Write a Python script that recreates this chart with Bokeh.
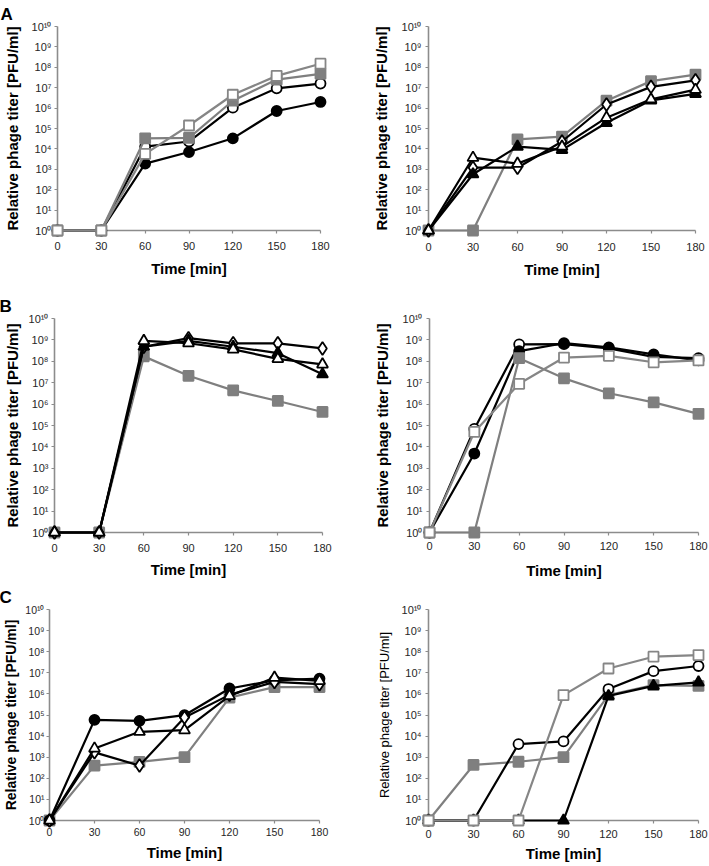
from bokeh.plotting import figure
from bokeh.layouts import column, row
from bokeh.models import Range1d, FixedTicker, Title
from bokeh.embed import file_html
from bokeh.resources import INLINE

# ---------------- data ----------------
time = [0, 30, 60, 90, 120, 150, 180]
y_ticks = [10 ** k for k in range(0, 11)]
SUP = "⁰¹²³⁴⁵⁶⁷⁸⁹"
y_tick_labels = ["10" + "".join(SUP[int(c)] for c in str(k)) for k in range(0, 11)]
x_tick_labels = ["0", "30", "60", "90", "120", "150", "180"]
y_title = "Relative phage titer [PFU/ml]"
x_title = "Time [min]"
panel_letters = ["A", "B", "C"]

# Panel A (left)
a1_filled_circle = [1, 1, 1.9e3, 7e3, 3.3e4, 7.2e5, 2e6]
a1_open_circle = [1, 1, 1.3e4, 2.3e4, 1.05e6, 9.3e6, 1.6e7]
a1_gray_filled_sq = [1, 1, 3.3e4, 3.5e4, 2.3e6, 2.5e7, 4.8e7]
a1_gray_open_sq = [1, 1, 5.7e3, 1.4e5, 4.5e6, 3.8e7, 1.5e8]
# Panel A (right)
a2_gray_filled_sq = [1, 1, 2.9e4, 4e4, 2.3e6, 2.1e7, 4.4e7]
a2_open_diamond = [1, 1.2e3, 1.2e3, 2.3e4, 1.5e6, 1.1e7, 2.3e7]
a2_filled_tri = [1, 5.7e2, 1.3e4, 9e3, 1.9e5, 2.4e6, 5e6]
a2_open_tri = [1, 3.7e3, 1.9e3, 1.3e4, 3.4e5, 2.7e6, 8e6]
# Panel B (left)
b1_gray_filled_sq = [1, 1, 1.7e8, 2.1e7, 4.4e6, 1.4e6, 4.3e5]
b1_open_diamond = [1, 1, 4.8e8, 1.2e9, 6.9e8, 6.9e8, 4e8]
b1_filled_tri = [1, 1, 4.8e8, 9e8, 4.8e8, 2.4e8, 2.5e7]
b1_open_tri = [1, 1, 9e8, 7e8, 3.6e8, 1.3e8, 7.2e7]
# Panel B (right)
b2_open_circle = [1, 6.9e4, 6.2e8, 6.3e8, 4e8, 1.6e8, 1.4e8]
b2_filled_circle = [1, 4.9e3, 3e8, 7e8, 4.5e8, 2.1e8, 1.1e8]
b2_gray_filled_sq = [1, 1, 1.4e8, 1.6e7, 3.2e6, 1.2e6, 3.5e5]
b2_gray_open_sq = [1, 5e4, 8.9e6, 1.5e8, 1.8e8, 9e7, 1.1e8]
# Panel C (left)
c1_gray_filled_sq = [1, 4e2, 6e2, 1e3, 6.7e5, 2.1e6, 2.1e6]
c1_filled_circle = [1, 5.9e4, 5.3e4, 9.8e4, 1.8e6, 4.4e6, 5.3e6]
c1_open_diamond = [1, 1.7e3, 4e2, 7.6e4, 9e5, 3.7e6, 2.9e6]
c1_open_tri = [1, 2.6e3, 1.6e4, 1.9e4, 8e5, 5.9e6, 4.1e6]
# Panel C (right)
c2_gray_filled_sq = [1, 4.3e2, 6.1e2, 1e3, 8.7e5, 2.6e6, 2.4e6]
c2_open_circle = [1, 1, 4.2e3, 5.6e3, 1.7e6, 1.2e7, 2.1e7]
c2_filled_tri = [1, 1, 1, 1, 8e5, 2.4e6, 3.5e6]
c2_gray_open_sq = [1, 1, 1, 8.7e5, 1.6e7, 5.8e7, 6.9e7]

# ---------------- styles ----------------
GRAY = "#7f7f7f"
STY = {
    "gfsq": dict(marker="square", line=GRAY, fill=GRAY, edge=GRAY, size=10),
    "gosq": dict(marker="square", line="#868686", fill="white", edge="#868686", size=10),
    "oc": dict(marker="circle", line="black", fill="white", edge="black", size=10),
    "fc": dict(marker="circle", line="black", fill="black", edge="black", size=10),
    "od": dict(marker="diamond", line="black", fill="white", edge="black", size=13),
    "ot": dict(marker="triangle", line="black", fill="white", edge="black", size=11),
    "ft": dict(marker="triangle", line="black", fill="black", edge="black", size=11),
}

FONT = "Liberation Sans"


def make_panel(w, h, ml, mr, mt, mb, series, letter=None, small_title=False,
               tick_size="11px", y_std=9, y_lstd=4, y_title_size="15px",
               x_std=7, x_als=6):
    p = figure(width=w, height=h, x_range=Range1d(0, 180), y_range=Range1d(1, 1e10),
               y_axis_type="log", output_backend="svg", toolbar_location=None,
               min_border_left=ml, min_border_right=mr, min_border_top=mt,
               min_border_bottom=mb, background_fill_color="white",
               border_fill_color="white")
    p.outline_line_color = None
    p.grid.visible = False

    xa = p.xaxis[0]
    xa.ticker = FixedTicker(ticks=time, minor_ticks=[])
    xa.major_label_overrides = {float(t): s for t, s in zip(time, x_tick_labels)}
    xa.axis_label = x_title
    xa.axis_label_text_font = FONT
    xa.axis_label_text_font_style = "bold"
    xa.axis_label_text_font_size = "15px"
    xa.axis_label_standoff = x_als
    xa.major_label_standoff = x_std

    ya = p.yaxis[0]
    ya.ticker = FixedTicker(ticks=y_ticks, minor_ticks=[])
    ya.major_label_overrides = {float(t): s for t, s in zip(y_ticks, y_tick_labels)}
    ya.axis_label = y_title
    ya.axis_label_text_font = FONT
    if small_title:
        ya.axis_label_text_font_style = "normal"
        ya.axis_label_text_font_size = "13px"
    else:
        ya.axis_label_text_font_style = "bold"
        ya.axis_label_text_font_size = y_title_size
    ya.axis_label_standoff = y_std
    ya.major_label_standoff = y_lstd

    for ax in (xa, ya):
        ax.axis_line_color = "#8c8c8c"
        ax.axis_line_width = 1.6
        ax.major_tick_line_color = "#8c8c8c"
        ax.major_tick_line_width = 1.2
        ax.major_tick_out = 3
        ax.major_tick_in = 0
        ax.minor_tick_out = 0
        ax.minor_tick_in = 0
        ax.major_label_text_font = FONT
        ax.major_label_text_font_size = tick_size
        ax.major_label_text_color = "#262626"
        ax.axis_label_text_color = "black"

    for key, vals in series:
        s = STY[key]
        p.line(time, vals, line_color=s["line"], line_width=2.2, level="overlay")
        p.scatter(time, vals, marker=s["marker"], size=s["size"], fill_color=s["fill"],
                  line_color=s["edge"], line_width=1.8, level="overlay")

    if letter is not None:
        txt, off = letter
        p.add_layout(Title(text=txt, align="left", offset=off, standoff=5,
                           text_font=FONT, text_font_style="bold",
                           text_font_size="17px", text_color="black"), "above")
    return p


pA1 = make_panel(365, 283, 57, 45, 20, 52,
                 [("fc", a1_filled_circle), ("oc", a1_open_circle),
                  ("gfsq", a1_gray_filled_sq), ("gosq", a1_gray_open_sq)],
                 letter=(panel_letters[0], -57), y_std=8, y_lstd=3, x_std=8, x_als=7)
pA2 = make_panel(344, 283, 63, 14, 15, 53,
                 [("gfsq", a2_gray_filled_sq), ("od", a2_open_diamond),
                  ("ft", a2_filled_tri), ("ot", a2_open_tri)],
                 x_std=9, x_als=7)
pB1 = make_panel(365, 300, 54, 43, 35, 50,
                 [("gfsq", b1_gray_filled_sq), ("od", b1_open_diamond),
                  ("ft", b1_filled_tri), ("ot", b1_open_tri)],
                 letter=(panel_letters[1], -55), y_std=5, y_lstd=3, x_std=8, x_als=6)
pB2 = make_panel(344, 300, 64, 11, 34, 51,
                 [("oc", b2_open_circle), ("fc", b2_filled_circle),
                  ("gfsq", b2_gray_filled_sq), ("gosq", b2_gray_open_sq)],
                 x_std=6, x_als=9)
pC1 = make_panel(365, 283, 49, 46, 25, 46,
                 [("gfsq", c1_gray_filled_sq), ("fc", c1_filled_circle),
                  ("od", c1_open_diamond), ("ot", c1_open_tri)],
                 letter=(panel_letters[2], -50), tick_size="10.5px", y_std=3, y_lstd=2,
                 y_title_size="14px", x_std=4, x_als=5)
pC2 = make_panel(344, 283, 63, 11, 25, 46,
                 [("gfsq", c2_gray_filled_sq), ("oc", c2_open_circle),
                  ("ft", c2_filled_tri), ("gosq", c2_gray_open_sq)],
                 small_title=True, y_std=7, x_std=6, x_als=4)

layout = column(row(pA1, pA2), row(pB1, pB2), row(pC1, pC2))

open("out.html", "w").write(file_html(layout, INLINE))
